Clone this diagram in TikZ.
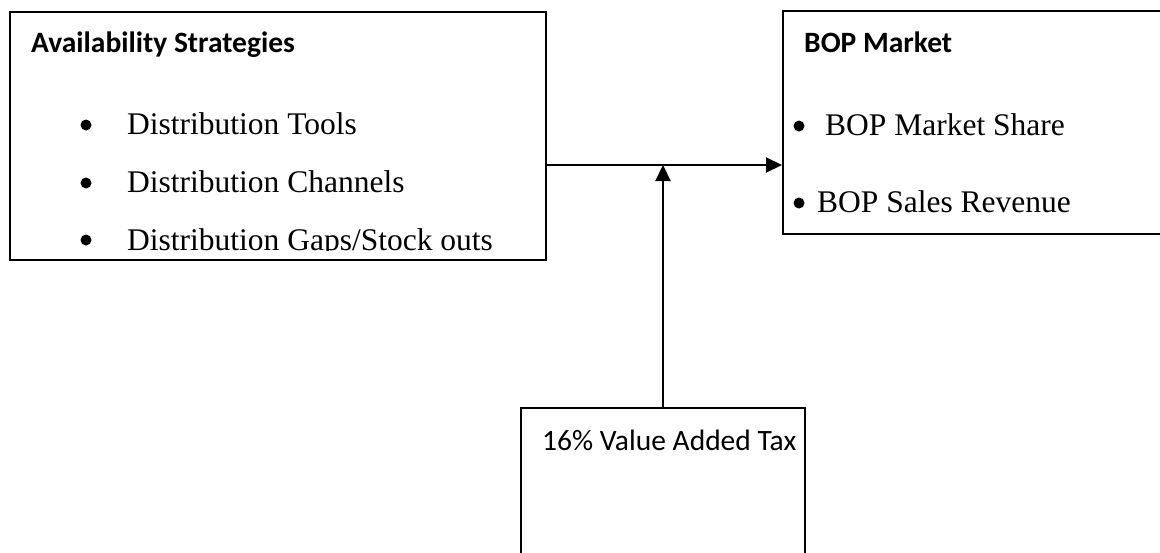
\documentclass[tikz,border=0pt]{standalone}
\usepackage{fontspec}
\setmainfont{Liberation Serif}
\newfontfamily\calibri{Carlito}
\usetikzlibrary{arrows.meta}
\usetikzlibrary{positioning}

\tikzset{
  box/.style={draw, line width=2pt, inner sep=0pt},
  head/.style={anchor=base west, inner sep=0pt, font=\calibri\bfseries\fontsize{29.5}{34}\selectfont},
  item/.style={anchor=base west, inner sep=0pt, font=\fontsize{31.5}{36}\selectfont},
  dot/.style={circle, fill, inner sep=0pt, minimum size=11pt},
  link/.style={line width=2.2pt, -{Triangle[length=16pt, width=15pt]}}
}

\begin{document}
\begin{tikzpicture}[x=1pt, y=-1pt]
          \useasboundingbox (0,0) rectangle (1160,552);
          \clip (0,0) rectangle (1160,552);

          \node [box, minimum width=536pt, minimum height=248pt] (avail) at (278,136) {};
          \node [box, minimum width=400pt, minimum height=223pt] (market) at (983,122.5) {};
          \node [box, minimum width=284pt, minimum height=202pt] (tax) at (663,509) {};

          \node [head] (availhead) at (31,52) {Availability Strategies};
          \node [dot] (b1) at (86,125) {};
          \node [item] (tools) at (127,134) {Distribution Tools};
          \node [dot] (b2) at (86,183) {};
          \node [item] (channels) at (127,192) {Distribution Channels};
          \node [dot] (b3) at (86,240) {};
          \begin{scope}
            \clip (avail.north west) rectangle (546,250);
            \node [item] (gaps) at (127,250) {Distribution Gaps/Stock outs};
          \end{scope}

          \node [head] (markethead) at (804,52) {BOP Market};
          \node [dot] (b4) at (799,126) {};
          \node [item] (share) at (825,135) {BOP Market Share};
          \node [dot] (b5) at (799,203) {};
          \node [item] (revenue) at (817,212) {BOP Sales Revenue};

          \node [anchor=base west, inner sep=0pt, font=\calibri\fontsize{29.5}{34}\selectfont] (vat) at (542,450) {16\% Value Added Tax};

          \coordinate (join) at (663,165);
          \draw [link] (avail.east |- join) -- (market.west |- join);
          \draw [link] (tax.north) -- (join);
        \end{tikzpicture}
\end{document}
